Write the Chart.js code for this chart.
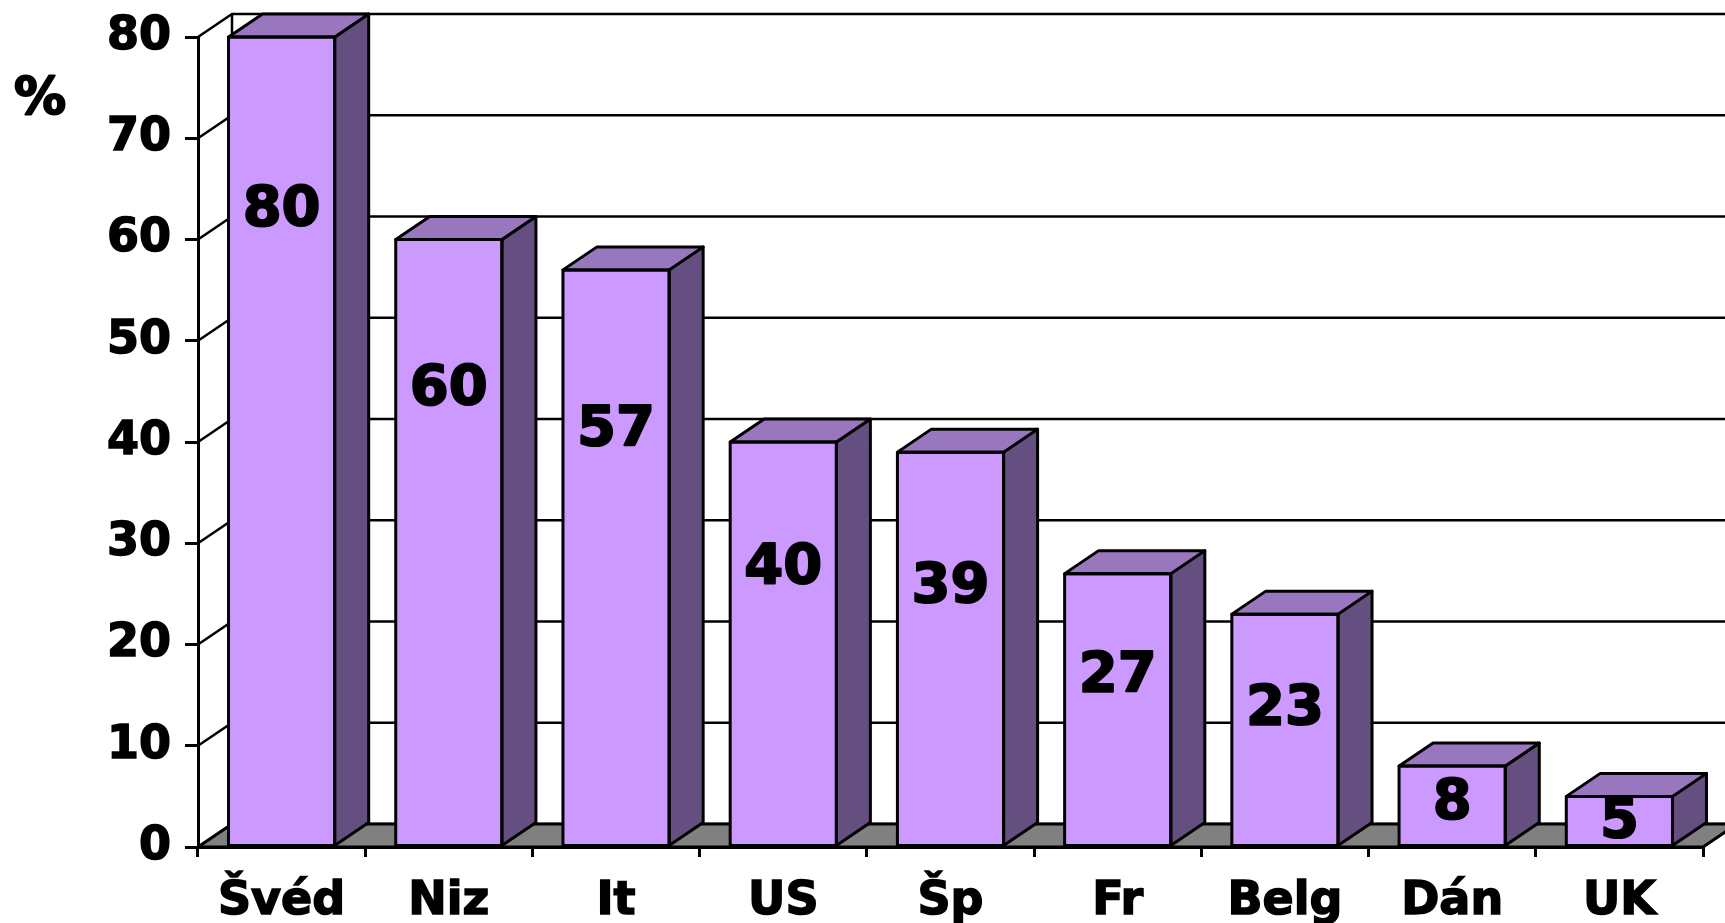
<!DOCTYPE html>
<html>
<head>
<meta charset="utf-8">
<script src="https://cdn.jsdelivr.net/npm/chart.js@4"></script>
<style>
  html, body { margin: 0; padding: 0; background: #fff; }
  #wrap { width: 1725px; height: 923px; }
</style>
</head>
<body>
<div id="wrap"><canvas id="barChart" width="1725" height="923"></canvas></div>
<script>
// data
const countries = ['Švéd', 'Niz', 'It', 'US', 'Šp', 'Fr', 'Belg', 'Dán', 'UK'];
const shares = [80, 60, 57, 40, 39, 27, 23, 8, 5];
const yTicks = [0, 10, 20, 30, 40, 50, 60, 70, 80];
const unitLabel = '%';

// 3d look
const depthX = 34;
const depthY = 23;
const frontColor = '#CC99FF';
const sideColor = '#654F80';
const topColor = '#9977BF';
const floorColor = '#808080';
const fontFamily = "'DejaVu Sans', 'Liberation Sans', Arial, sans-serif";

Chart.defaults.font.family = fontFamily;
Chart.defaults.font.weight = 'bold';
Chart.defaults.color = '#000';

const threeD = {
    id: 'threeD',
    beforeDatasetsDraw(chart) {
        const ctx = chart.ctx;
        const area = chart.chartArea;
        const y = chart.scales.y;
        ctx.save();
        ctx.strokeStyle = '#000';
        ctx.lineWidth = 2.5;
        // left wall diagonals and back wall gridlines
        yTicks.forEach(function(v) {
            const py = y.getPixelForValue(v);
            ctx.beginPath();
            ctx.moveTo(area.left, py);
            ctx.lineTo(area.left + depthX, py - depthY);
            ctx.lineTo(area.right + depthX + 40, py - depthY);
            ctx.stroke();
        });
        // back wall left edge
        ctx.beginPath();
        ctx.moveTo(area.left + depthX, area.top - depthY);
        ctx.lineTo(area.left + depthX, area.bottom - depthY);
        ctx.stroke();
        // floor
        ctx.lineWidth = 3;
        ctx.beginPath();
        ctx.moveTo(area.left, area.bottom);
        ctx.lineTo(area.right, area.bottom);
        ctx.lineTo(area.right + depthX, area.bottom - depthY);
        ctx.lineTo(area.left + depthX, area.bottom - depthY);
        ctx.closePath();
        ctx.fillStyle = floorColor;
        ctx.fill();
        ctx.stroke();
        ctx.restore();
    },
    afterDatasetsDraw(chart) {
        const ctx = chart.ctx;
        const meta = chart.getDatasetMeta(0);
        ctx.save();
        ctx.strokeStyle = '#000';
        ctx.lineWidth = 3;
        ctx.lineJoin = 'round';
        meta.data.forEach(function(bar, i) {
            const half = bar.width / 2;
            const l = bar.x - half, r = bar.x + half;
            const t = bar.y, b = bar.base;
            // side
            ctx.beginPath();
            ctx.moveTo(r, t);
            ctx.lineTo(r + depthX, t - depthY);
            ctx.lineTo(r + depthX, b - depthY);
            ctx.lineTo(r, b);
            ctx.closePath();
            ctx.fillStyle = sideColor;
            ctx.fill();
            ctx.stroke();
            // top
            ctx.beginPath();
            ctx.moveTo(l, t);
            ctx.lineTo(l + depthX, t - depthY);
            ctx.lineTo(r + depthX, t - depthY);
            ctx.lineTo(r, t);
            ctx.closePath();
            ctx.fillStyle = topColor;
            ctx.fill();
            ctx.stroke();
            // front outline
            ctx.strokeRect(l, t, r - l, b - t);
        });
        // value labels, lifted like the 3d labels in the original
        ctx.font = 'bold 56px ' + fontFamily;
        ctx.textAlign = 'center';
        ctx.textBaseline = 'middle';
        ctx.fillStyle = '#000';
        ctx.lineWidth = 2;
        meta.data.forEach(function(bar, i) {
            const h = bar.base - bar.y;
            const lift = Math.max(0, h * (0.29 - 0.031 * i));
            const ly = (bar.y + bar.base) / 2 - lift + 4;
            ctx.strokeText(String(shares[i]), bar.x, ly);
            ctx.fillText(String(shares[i]), bar.x, ly);
        });
        // unit label
        ctx.font = 'bold 52px ' + fontFamily;
        ctx.strokeText(unitLabel, 40, 100);
        ctx.fillText(unitLabel, 40, 100);
        ctx.restore();
    }
};

new Chart(document.getElementById('barChart').getContext('2d'), {
    type: 'bar',
    data: {
        labels: countries,
        datasets: [{
            data: shares,
            backgroundColor: frontColor,
            borderColor: '#000',
            borderWidth: 0,
            categoryPercentage: 1,
            barPercentage: 0.635
        }]
    },
    options: {
        responsive: false,
        animation: false,
        layout: { padding: { top: 36, right: 22, left: 0, bottom: 0 } },
        plugins: {
            legend: { display: false },
            tooltip: { enabled: false }
        },
        scales: {
            x: {
                afterFit: function(s) { s.height = 76; },
                grid: {
                    drawOnChartArea: false,
                    drawTicks: true,
                    tickLength: 10,
                    color: '#000',
                    lineWidth: 3
                },
                border: { display: true, color: '#000', width: 3 },
                ticks: {
                    font: { size: 46, weight: 'bold', lineHeight: 1 },
                    color: '#000',
                    textStrokeColor: '#000',
                    textStrokeWidth: 1.5,
                    padding: 22,
                    maxRotation: 0
                }
            },
            y: {
                min: 0,
                max: 80,
                afterFit: function(s) { s.width = 198; },
                grid: {
                    drawOnChartArea: false,
                    drawTicks: true,
                    tickLength: 13,
                    color: '#000',
                    lineWidth: 3
                },
                border: { display: true, color: '#000', width: 3 },
                ticks: {
                    stepSize: 10,
                    font: { size: 46, weight: 'bold', lineHeight: 1 },
                    color: '#000',
                    textStrokeColor: '#000',
                    textStrokeWidth: 1.5,
                    padding: 14
                }
            }
        }
    },
    plugins: [threeD]
});
</script>
</body>
</html>
